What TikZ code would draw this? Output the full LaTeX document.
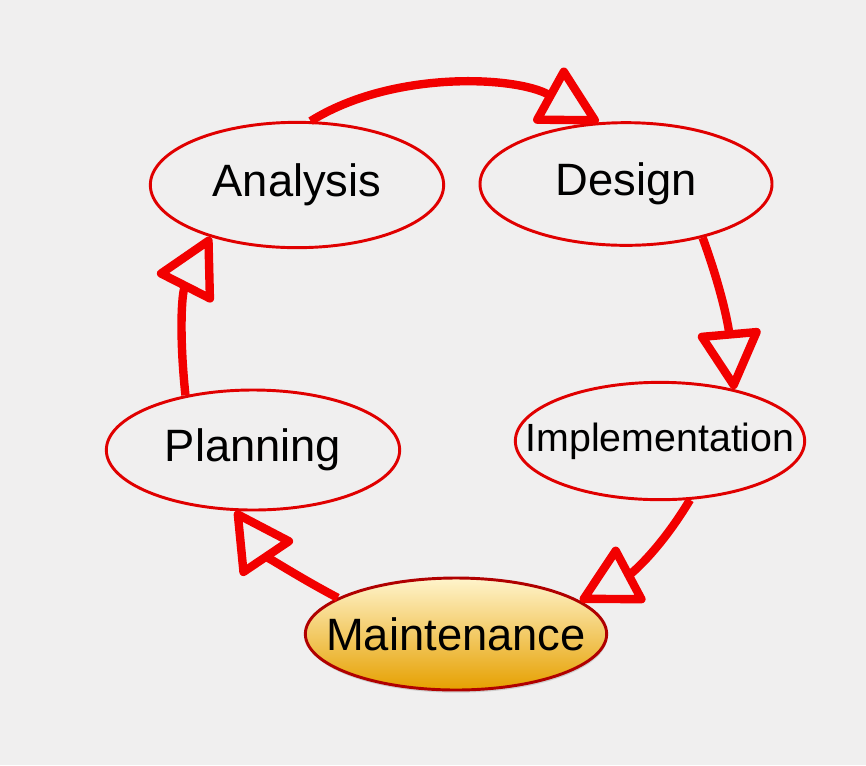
\documentclass[tikz,border=0pt]{standalone}
\usepackage{fontspec}
\setmainfont{Liberation Sans}
\usetikzlibrary{shapes.geometric,arrows.meta,shadows}
\definecolor{SDLCRed}{HTML}{F20000}
\definecolor{SDLCEdge}{HTML}{E00000}
\definecolor{SDLCDark}{HTML}{B00000}
\definecolor{SDLCBack}{HTML}{F0EFEF}
\definecolor{SDLCGoldTop}{HTML}{FFF4CC}
\definecolor{SDLCGold}{HTML}{F6D266}
\definecolor{SDLCGoldLow}{HTML}{E6A000}

\begin{document}
\begin{tikzpicture}[x=0.75pt,y=0.75pt,
 phase/.style={ellipse,draw=SDLCEdge,line width=2.2pt,inner sep=0pt,font=\fontsize{34}{40}\selectfont},
 current/.style={phase,draw=SDLCDark,top color=SDLCGoldTop,middle color=SDLCGold,bottom color=SDLCGoldLow,
   drop shadow={opacity=0.3,shadow xshift=0.5pt,shadow yshift=-2pt}},
 loopline/.style={line width=6.3pt,draw=SDLCRed,-{Triangle[open,round,length=48pt,width=50pt]}}]
% background and page size
\fill[SDLCBack] (0,0) rectangle (866,-765);
% phases
\node[phase,minimum width=220pt,minimum height=94pt] (ana) at (297,-185) {\makebox[0pt]{Analysis}};
\node[phase,minimum width=219pt,minimum height=92pt] (des) at (626,-184) {\makebox[0pt]{Design}};
\node[phase,minimum width=217pt,minimum height=88pt,font=\fontsize{29.5}{35}\selectfont] (imp) at (660,-441) {\makebox[0pt]{Implementation}};
\node[current,minimum width=226pt,minimum height=84pt] (mai) at (456,-634) {\makebox[0pt]{Maintenance}};
\node[phase,minimum width=220pt,minimum height=90pt] (pla) at (253,-450) {\makebox[0pt]{Planning}};
% cycle arrows
\draw[loopline] (ana.78) to[out=32,in=151,looseness=0.85] (des.114);
\draw[loopline] (des.-35) to[out=-70,in=95] (imp.35);
\draw[loopline] (imp.-63) to[out=-121,in=28] (mai.15);
\draw[loopline] (mai.163) to[out=152,in=-56] (pla.-106);
\draw[loopline] (pla.141) to[out=96,in=-117] (ana.211);
\end{tikzpicture}
\end{document}
